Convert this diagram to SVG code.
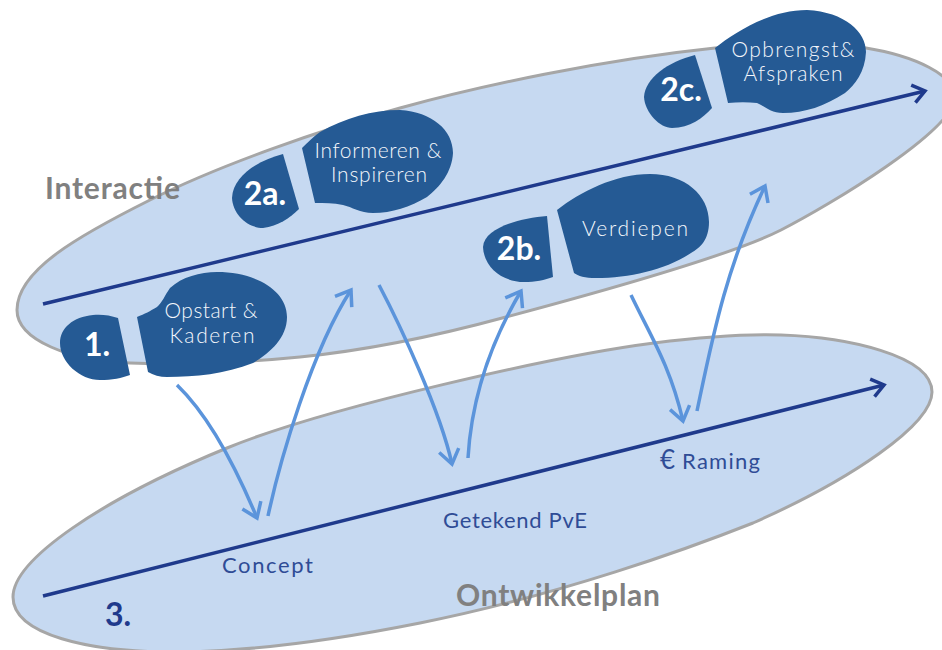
<svg xmlns="http://www.w3.org/2000/svg" width="942" height="650" viewBox="0 0 942 650">
<style>
.pool{fill:#c6d9f1;stroke:#a6a6a6;stroke-width:3}
.foot{fill:#255a94}
.axis{fill:none;stroke:#1f3a8c;stroke-width:3.5}
.flow{fill:none;stroke:#5b94db;stroke-width:3.5}
text{font-family:"Lato","Liberation Sans",sans-serif}
.w{fill:#f4f7fc;font-size:21px;font-weight:300;text-anchor:middle}
.n{fill:#fff;font-size:32px;font-weight:700;text-anchor:middle}
.d{fill:#2f4c96;font-size:22px;font-weight:400}
.g{fill:#808080;font-size:30px;font-weight:700}
</style>
<defs>
<marker id="ah" markerUnits="userSpaceOnUse" viewBox="0 0 24 24" refX="21" refY="12" markerWidth="24" markerHeight="24" orient="auto"><path d="M7 2L21 12L7 22" fill="none" stroke="#5b94db" stroke-width="3.5"/></marker>
<marker id="ad" markerUnits="userSpaceOnUse" viewBox="0 0 24 24" refX="21" refY="12" markerWidth="24" markerHeight="24" orient="auto"><path d="M9 3L21 12L9 21" fill="none" stroke="#1f3a8c" stroke-width="3.5"/></marker>
</defs>
<g id="pool-ontwikkelplan"><path class="pool" d="M13 597C13 560 100 500 227 448C327 407 560 355 654 343C710 336 750 334 781 335C845 337 932 355 932 392C932 425 850 480 753 523C690 548 560 595 420 623C320 643 240 652 173 652C90 652 13 635 13 597Z"/></g>
<g id="pool-interactie"><path class="pool" d="M17 310C17 270 80 235 150 200C220 165 320 130 400 108C480 86 600 60 715 48C770 42 825 41 866 48C915 56 955 75 955 97C955 130 830 205 781 230C730 256 600 292 506 317C440 335 370 350 300 357C250 362 180 365 130 363C70 361 17 340 17 310Z"/></g>
<g id="connectors">
<path class="axis" d="M43 304L925 91" marker-end="url(#ad)"/>
<path class="axis" d="M43 596L884 385" marker-end="url(#ad)"/>
<path class="flow" d="M177 385C205 412 232 458 257 518" marker-end="url(#ah)"/>
<path class="flow" d="M268 516C280 460 312 350 351 290" marker-end="url(#ah)"/>
<path class="flow" d="M379 285C400 325 440 410 452 464" marker-end="url(#ah)"/>
<path class="flow" d="M468 458C472 390 495 335 521 291" marker-end="url(#ah)"/>
<path class="flow" d="M631 295C650 335 670 365 683 421" marker-end="url(#ah)"/>
<path class="flow" d="M697 411C712 340 725 270 765 186" marker-end="url(#ah)"/>
</g>
<g id="step-1">
<path class="foot" d="M118 318C110 315 100 314 93 315C73 317 60 328 60 343C60 362 80 380 100 380C112 380 122 378 130 375Z"/>
<path class="foot" d="M137 317C145 314 150 311 157 307C162 303 165 295 170 288C182 277 200 272 217 272C255 272 287 290 287 317C287 338 270 353 253 363C225 374 195 377 167 377C160 377 153 375 148 372Z"/>
<text class="n" x="97" y="356">1.</text>
<text class="w" x="211" y="318" textLength="93">Opstart &amp;</text><text class="w" x="212" y="343" textLength="85">Kaderen</text>
</g>
<g id="step-2a">
<path class="foot" d="M283 154C260 160 233 175 232 198C233 215 248 228 263 228C278 226 290 218 299 209Z"/>
<path class="foot" d="M302 148C308 142 313 137 320 132C345 118 372 110 400 110C432 112 453 130 453 153C452 172 440 187 427 197C410 207 392 213 373 213C360 213 352 207 343 205C333 203 325 203 315 203Z"/>
<text class="n" x="265" y="205">2a.</text>
<text class="w" x="378" y="158" textLength="127">Informeren &amp;</text><text class="w" x="379" y="182" textLength="96">Inspireren</text>
</g>
<g id="step-2b">
<path class="foot" d="M547 216C520 218 484 228 483 247C484 268 503 282 524 282C535 282 545 280 553 277Z"/>
<path class="foot" d="M557 210C580 192 615 174 650 174C685 174 709 195 709 222C709 240 700 248 691 253C665 270 630 278 596 278C585 278 578 276 574 273Z"/>
<text class="n" x="519" y="260">2b.</text>
<text class="w" x="635" y="236" textLength="106">Verdiepen</text>
</g>
<g id="step-2c">
<path class="foot" d="M695 55C668 62 645 78 644 97C645 113 660 128 672 128C690 128 703 118 712 108Z"/>
<path class="foot" d="M715 48C735 32 770 10 807 10C845 12 866 32 866 52C865 72 855 85 845 93C825 106 805 113 783 113C770 113 765 106 757 103C748 102 738 102 728 103Z"/>
<text class="n" x="681" y="101">2c.</text>
<text class="w" x="793" y="57" textLength="123">Opbrengst&amp;</text><text class="w" x="793" y="81" textLength="99">Afspraken</text>
</g>
<g id="label-interactie"><text class="g" x="45" y="199" textLength="135">Interactie</text></g>
<g id="label-ontwikkelplan"><text class="g" x="456" y="606" textLength="204">Ontwikkelplan</text></g>
<g id="label-3"><text x="105" y="626" font-size="32" font-weight="700" fill="#1f3a8c">3.</text></g>
<g id="label-concept"><text class="d" x="222" y="573" textLength="91">Concept</text></g>
<g id="label-pve"><text class="d" x="443" y="528" textLength="144">Getekend PvE</text></g>
<g id="label-raming"><text class="d" x="660" y="469" style="font-size:26px">€</text><text class="d" x="682" y="469" textLength="78">Raming</text></g>
</svg>
